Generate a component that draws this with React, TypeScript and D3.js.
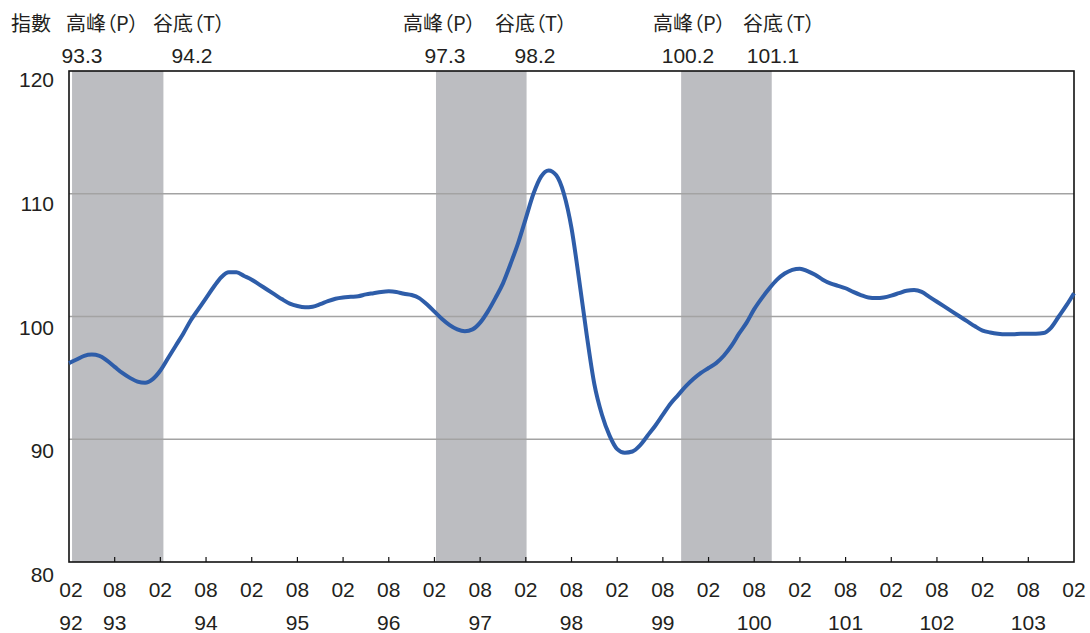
import React from 'react';
import * as d3 from 'd3';

// monthly index values, month 0 = first "02" tick
const indexValues = [
  96.2, 96.5, 96.8, 96.9, 96.8, 96.4, 95.9, 95.4, 95.0, 94.7, 94.6, 94.9,
  95.6, 96.6, 97.6, 98.6, 99.7, 100.6, 101.5, 102.4, 103.2, 103.6, 103.6, 103.3,
  103.0, 102.6, 102.2, 101.8, 101.4, 101.05, 100.85, 100.75, 100.8, 101.0, 101.25, 101.45,
  101.55, 101.6, 101.65, 101.8, 101.9, 102.0, 102.05, 102.0, 101.85, 101.75, 101.5, 101.0,
  100.4, 99.8, 99.3, 98.95, 98.8, 98.95, 99.5, 100.4, 101.5, 102.7, 104.3, 106.0,
  108.0, 110.0, 111.4, 111.9, 111.5, 110.0, 107.2, 103.0, 98.5, 94.5, 92.0, 90.3,
  89.2, 88.9, 89.0, 89.5, 90.3, 91.1, 92.0, 92.9, 93.6, 94.3, 94.9, 95.4,
  95.8, 96.2, 96.8, 97.6, 98.6, 99.5, 100.6, 101.5, 102.3, 103.0, 103.5, 103.8,
  103.9, 103.7, 103.4, 103.0, 102.7, 102.5, 102.3, 102.0, 101.75, 101.55, 101.5, 101.55,
  101.7, 101.9, 102.1, 102.15, 102.0, 101.6, 101.2, 100.8, 100.4, 100.0, 99.6, 99.2,
  98.85, 98.7, 98.6, 98.55, 98.55, 98.6, 98.6, 98.6, 98.65, 99.1, 100.0, 100.9,
  101.9,
];

const monthLabels = ['02', '08'];
const yearLabels = ['92', '93', '94', '95', '96', '97', '98', '99', '100', '101', '102', '103'];
const yearTickMonths = [0, 6, 18, 30, 42, 54, 66, 78, 90, 102, 114, 126];
const yTicks = [80, 90, 100, 110, 120];

// recessions (month index start/end) and their peak / trough labels
const bandStart = [0.4, 48.2, 80.4];
const bandEnd = [12.4, 60.1, 92.3];
const peakLabels = ['93.3', '97.3', '100.2'];
const troughLabels = ['94.2', '98.2', '101.1'];

// label layout (pixels)
const peakHeadX = [66, 403, 653];
const troughHeadX = [153, 495, 743];
const peakNumX = [82, 445, 688];
const troughNumX = [192, 535, 773];

const W = 1090;
const H = 633;
const plot = { left: 69, right: 1074, top: 71, bottom: 562 };
const latin = '"Liberation Sans", Arial, sans-serif';
const cjk = '"Noto Sans CJK TC", "Noto Sans CJK SC", sans-serif';

export default function App() {
  const nMonths = indexValues.length - 1;
  const x = d3.scaleLinear().domain([0, nMonths]).range([plot.left, plot.right]);
  const y = d3.scaleLinear().domain([80, 120]).range([plot.bottom, plot.top]);
  const yLabel = d3.scaleLinear().domain([80, 120]).range([582, 87]);

  const line = d3
    .line<number>()
    .x((_, i) => x(i))
    .y(d => y(d))
    .curve(d3.curveMonotoneX);

  const ticks = d3.range(0, nMonths + 1, 6);

  return (
    <div style={{ position: 'fixed', left: 0, top: 0 }}>
      <svg width={W} height={H} style={{ display: 'block', background: '#fff' }}>
        {/* recession shading */}
        {bandStart.map((s, i) => (
          <rect
            key={'b' + i}
            x={x(s)}
            y={plot.top}
            width={x(bandEnd[i]) - x(s)}
            height={plot.bottom - plot.top}
            fill="#bcbdc1"
          />
        ))}

        {/* grid */}
        {yTicks.slice(1, -1).map(v => (
          <line key={'g' + v} x1={plot.left} x2={plot.right} y1={y(v)} y2={y(v)} stroke="#a3a3a3" strokeWidth={1.5} />
        ))}

        {/* frame */}
        <rect
          x={plot.left}
          y={plot.top}
          width={plot.right - plot.left}
          height={plot.bottom - plot.top}
          fill="none"
          stroke="#111"
          strokeWidth={1.6}
        />

        {/* x ticks */}
        {ticks.slice(1, -1).map(m => (
          <line key={'t' + m} x1={x(m)} x2={x(m)} y1={plot.bottom} y2={plot.bottom - 5} stroke="#111" strokeWidth={1.2} />
        ))}

        {/* series */}
        <path d={line(indexValues) || ''} fill="none" stroke="#2e5da9" strokeWidth={4} strokeLinejoin="round" />

        {/* y labels */}
        {yTicks.map(v => (
          <text key={'yl' + v} x={54} y={yLabel(v)} textAnchor="end" fontFamily={latin} fontSize={21} fill="#231f20">
            {v}
          </text>
        ))}

        {/* x month labels */}
        {ticks.map((m, i) => (
          <text key={'xl' + m} x={x(m) + (i === 0 ? 2 : 0)} y={597} textAnchor="middle" fontFamily={latin} fontSize={21} fill="#231f20">
            {monthLabels[i % 2]}
          </text>
        ))}
        {yearLabels.map((yr, i) => (
          <text
            key={'yr' + yr}
            x={x(yearTickMonths[i]) + (i === 0 ? 2 : 0)}
            y={630}
            textAnchor="middle"
            fontFamily={latin}
            fontSize={21}
            fill="#231f20"
          >
            {yr}
          </text>
        ))}

        {/* header */}
        <text x={11} y={31} fontFamily={cjk} fontSize={20} fill="#231f20">
          指數
        </text>
        {peakLabels.map((p, i) => (
          <g key={'pk' + i}>
            <text x={peakHeadX[i]} y={31} fontFamily={cjk} fontSize={20} fill="#231f20" style={{ fontFeatureSettings: '"palt"' }}>
              高峰（P）
            </text>
            <text x={troughHeadX[i]} y={31} fontFamily={cjk} fontSize={20} fill="#231f20" style={{ fontFeatureSettings: '"palt"' }}>
              谷底（T）
            </text>
            <text x={peakNumX[i]} y={63} textAnchor="middle" fontFamily={latin} fontSize={21} fill="#231f20">
              {p}
            </text>
            <text x={troughNumX[i]} y={63} textAnchor="middle" fontFamily={latin} fontSize={21} fill="#231f20">
              {troughLabels[i]}
            </text>
          </g>
        ))}
      </svg>
    </div>
  );
}
